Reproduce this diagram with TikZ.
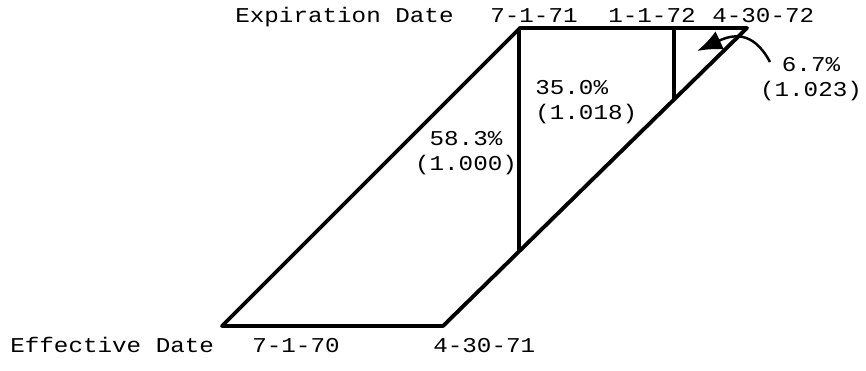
\documentclass[tikz,border=0pt]{standalone}
\usepackage{fontspec}
\newfontfamily\tw[FakeStretch=1.15]{Liberation Mono}
\usetikzlibrary{positioning,calc,arrows.meta}
\tikzset{
edge/.style={line width=2.2pt,line join=round},
lbl/.style={font=\tw\fontsize{12}{14.5}\selectfont,inner sep=0pt},
dt/.style={lbl,anchor=base west},
pct/.style={lbl,align=center},
}

\begin{document}
\begin{tikzpicture}[x=0.02cm,y=-0.02cm]
	\useasboundingbox (0,0) rectangle (866,371);
	\coordinate (bl) at (222,326);
	\coordinate (br) at (443,326);
	\coordinate (tr) at (747,28);
	\coordinate (tl) at (520,28);
	\coordinate (d1) at ($(br)!0.25!(tr)$);
	\coordinate (d2) at ($(br)!0.76!(tr)$);
	\coordinate (tip) at (697,51);
	\coordinate (tail) at (770,62);

	\draw[edge] (bl) -- (br) -- (tr) -- (tl) -- cycle;
	\draw[edge] (d1) -- (d1 |- tl);
	\draw[edge] (d2) -- (d2 |- tr);

	\node[dt] (exp) at (235,23) {Expiration Date};
	\node[dt] (e1) at (490,23) {7-1-71};
	\node[dt] (e2) at (608,23) {1-1-72};
	\node[dt] (e3) at (712,23) {4-30-72};
	\node[dt] (eff) at (10,353) {Effective Date};
	\node[dt] (s1) at (252,353) {7-1-70};
	\node[dt] (s2) at (433,353) {4-30-71};

	\node[pct] (p1) at (466,153) {58.3\%\\(1.000)};
	\node[pct,align=left,anchor=west] (p2) at (535,102) {35.0\%\\(1.018)};
	\node[pct] (p3) at (811,79) {6.7\%\\(1.023)};

	\draw[-{Latex[length=5mm,width=4mm]},line width=1.4pt]
	(tail) to[out=118,in=25,looseness=1.3] (tip);
\end{tikzpicture}
\end{document}
